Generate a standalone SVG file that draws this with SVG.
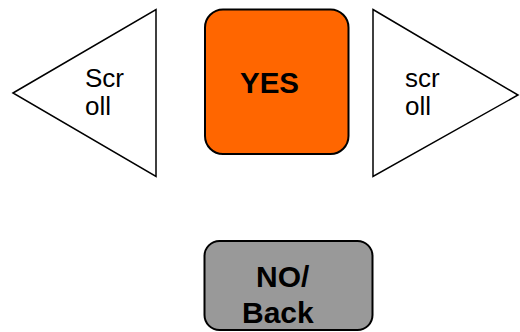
<svg xmlns="http://www.w3.org/2000/svg" width="520" height="332" viewBox="0 0 520 332">
<style>
.tri{fill:#ffffff;stroke:#000000;stroke-width:1.5;stroke-linejoin:miter}
.box{stroke:#000000;stroke-width:2}
.lbl{font-family:"Liberation Sans",Arial,sans-serif;fill:#000000}
.b{font-weight:bold}
</style>
<rect width="520" height="332" fill="#ffffff"/>
<g id="connectors"></g>
<g id="scroll-left">
<polygon class="tri" points="13,93 156,9.5 156,176.5"/>
<text class="lbl" x="85" y="87" font-size="26">Scr</text>
<text class="lbl" x="85" y="115" font-size="26">oll</text>
</g>
<g id="yes">
<rect class="box" x="205" y="9.5" width="143.5" height="144.5" rx="18" fill="#ff6600"/>
<text class="lbl b" x="240" y="93" font-size="29.5">YES</text>
</g>
<g id="scroll-right">
<polygon class="tri" points="373,9.5 518,95 373,176.5"/>
<text class="lbl" x="405" y="87" font-size="26">scr</text>
<text class="lbl" x="405" y="115" font-size="26">oll</text>
</g>
<g id="no-back">
<rect class="box" x="204.5" y="241" width="168" height="89" rx="15" fill="#999999"/>
<text class="lbl b" x="256" y="287" font-size="30">NO/</text>
<text class="lbl b" x="242" y="323" font-size="30">Back</text>
</g>
</svg>
